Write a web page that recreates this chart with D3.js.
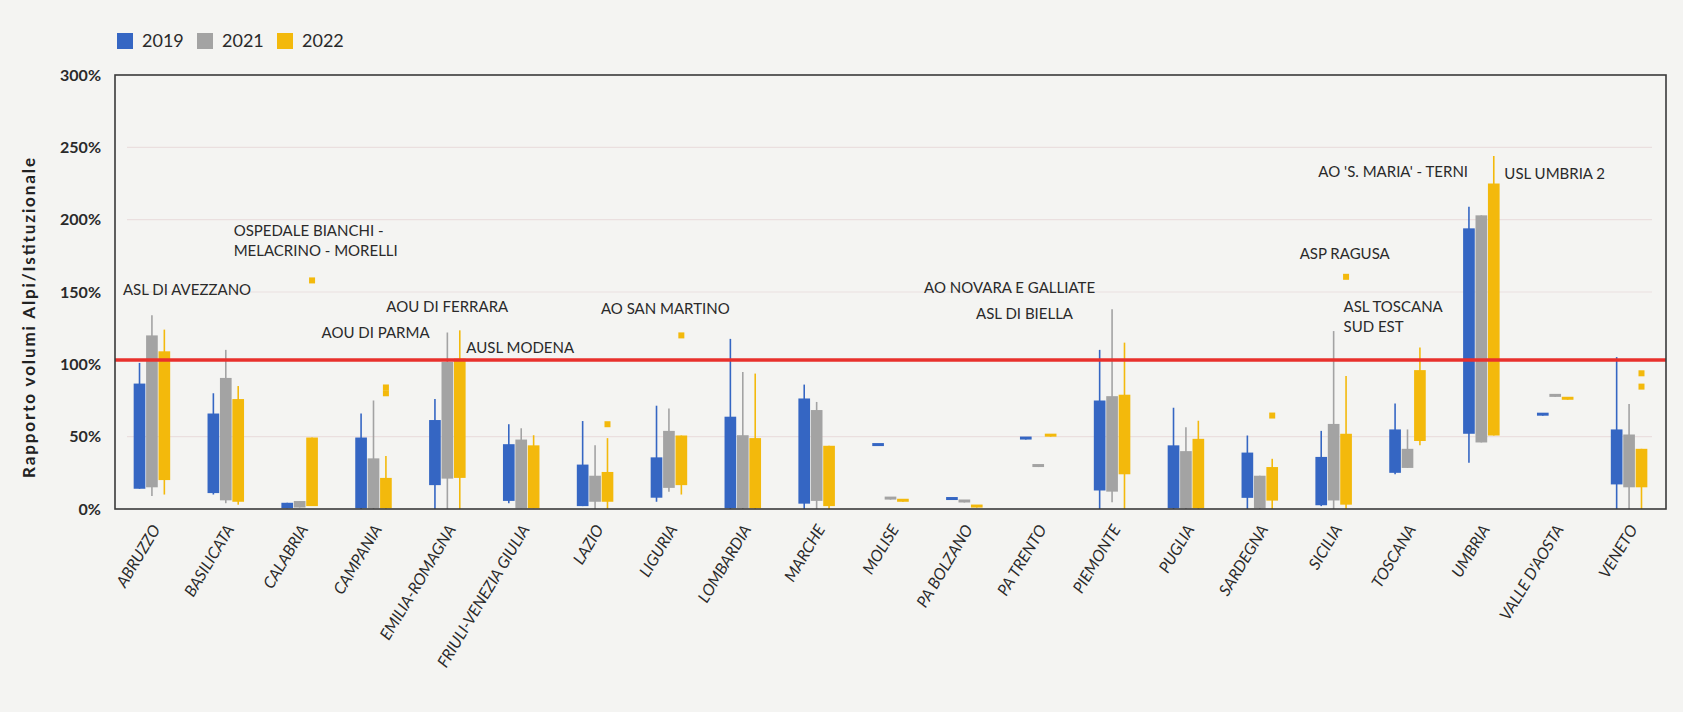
<!DOCTYPE html>
<html>
<head>
<meta charset="utf-8">
<script src="https://cdn.jsdelivr.net/npm/d3@7"></script>
<style>
  html, body { margin: 0; padding: 0; background: #f4f4f2; }
  svg { display: block; font-family: "Lato", "Open Sans", sans-serif; }
</style>
</head>
<body>
<div id="chart"></div>
<script>
// categories
const regions = ["ABRUZZO","BASILICATA","CALABRIA","CAMPANIA","EMILIA-ROMAGNA","FRIULI-VENEZIA GIULIA","LAZIO","LIGURIA","LOMBARDIA","MARCHE","MOLISE","PA BOLZANO","PA TRENTO","PIEMONTE","PUGLIA","SARDEGNA","SICILIA","TOSCANA","UMBRIA","VALLE D'AOSTA","VENETO"];
const years = ["2019", "2021", "2022"];

// box values (%) per year: whisker low, box bottom, box top, whisker high
const lo2019 = [14, 10, 0.5, 0, 0, 4, 2, 5, 0, 0, 44, 6.2, 48, 0, 0, 0, 2, 24, 32, 64.5, 0];
const q1_2019 = [14, 11, 0.5, 0.5, 16.5, 5.6, 2, 7.8, 0.5, 3.7, 43.5, 6.2, 48, 12.8, 0.5, 7.7, 2.6, 25, 52, 64.5, 17];
const q3_2019 = [86.7, 66, 4.3, 49.4, 61.5, 44.8, 30.7, 35.7, 63.8, 76.4, 45, 7.4, 49.5, 75, 44, 39, 36, 55, 194, 65.5, 55];
const hi2019 = [101, 80, 4.3, 66, 76, 58.6, 60.8, 71.4, 117.6, 86, 45, 7.4, 49.5, 110, 70, 50.8, 54, 73, 209, 65.5, 105];

const lo2021 = [9, 4, 1, 0, 0, 0.5, 0, 12, 0, 0, 6.5, 4.5, 29, 4.7, 0, 0, 0, 28.4, 46, 77.5, 0];
const q1_2021 = [15, 6, 1, 0.5, 21, 0.5, 5, 14.6, 0.5, 5.6, 6.5, 4.5, 29, 12, 0.5, 0.5, 5.9, 28.4, 46, 77.5, 15];
const q3_2021 = [120, 90.6, 5.5, 35, 101.6, 48, 23, 54, 51, 68.4, 7.3, 5.5, 30, 78, 40, 23, 58.8, 41.6, 203, 78.5, 51.5];
const hi2021 = [134, 110, 5.5, 75, 122, 55.8, 44, 69.5, 94.7, 74, 7.3, 5.5, 30, 138, 56.5, 23, 123, 55, 203, 78.5, 72.6];

const lo2022 = [10, 3, 2, 0, 0, 0.5, 0, 10, 0, 0, 5, 1, 50, 0, 0, 0, 0, 44, 50.8, 75.5, 0];
const q1_2022 = [20, 5, 2, 0.5, 21.5, 0.5, 5, 16.5, 0.5, 2, 5, 1, 50, 24, 0.5, 5.8, 3, 47, 50.8, 75.5, 15];
const q3_2022 = [109, 76, 49.4, 21.5, 104, 44, 25.6, 50.8, 49, 43.7, 6, 1.8, 51.5, 79, 48.5, 29, 52, 96, 225, 76.5, 41.6];
const hi2022 = [124, 85, 49.4, 36.6, 123.5, 51, 49, 50.8, 93.6, 43.7, 6, 1.8, 51.5, 115, 61, 34.7, 92, 111.7, 244, 76.5, 41.6];

// outliers (year, region, value %)
const outliers = [
  ["2022", "CALABRIA", 158], ["2022", "CAMPANIA", 84], ["2022", "CAMPANIA", 80],
  ["2022", "LAZIO", 58.6], ["2022", "LIGURIA", 120], ["2022", "SARDEGNA", 64.6],
  ["2022", "SICILIA", 160.5], ["2022", "VENETO", 93.8], ["2022", "VENETO", 84.6]
];

// annotations: text, region, value (%), dx from band centre
const annotations = [
  ["ASL DI AVEZZANO", "ABRUZZO", 151.5, -29],
  ["OSPEDALE BIANCHI -", "CALABRIA", 192, -66],
  ["MELACRINO - MORELLI", "CALABRIA", 178.5, -66],
  ["AOU DI PARMA", "CAMPANIA", 122, -52],
  ["AOU DI FERRARA", "EMILIA-ROMAGNA", 140, -61],
  ["AUSL MODENA", "EMILIA-ROMAGNA", 111.5, 19],
  ["AO SAN MARTINO", "LIGURIA", 138.5, -68],
  ["AO NOVARA E GALLIATE", "PIEMONTE", 153, -188],
  ["ASL DI BIELLA", "PIEMONTE", 135, -136],
  ["ASP RAGUSA", "SICILIA", 176.5, -34],
  ["ASL TOSCANA", "TOSCANA", 140, -64],
  ["SUD EST", "TOSCANA", 126, -64],
  ["AO 'S. MARIA' - TERNI", "UMBRIA", 233, -163],
  ["USL UMBRIA 2", "UMBRIA", 231.7, 23]
];

const yTicks = [0, 50, 100, 150, 200, 250, 300];
const gridValues = [50, 150, 200, 250];
const refValue = 103;
const yTitle = "Rapporto volumi Alpi/Istituzionale";

const colors = {"2019": "#3566c3", "2021": "#a3a3a3", "2022": "#f3b90c"};

class box_chart {
    constructor(div_id, width, height){
        var self = this;
        self.margin = {left: 115, right: 17, top: 75, bottom: 203};
        self.width = width;
        self.height = height;

        self.svg = d3.select(`#${div_id}`).append("svg")
            .attr("width", width)
            .attr("height", height);

        self.xScale = d3.scaleBand()
            .domain(regions)
            .range([self.margin.left, width - self.margin.right]);

        self.inner = d3.scaleBand()
            .domain(years)
            .range([-19, 19])
            .padding(0.06);

        self.yScale = d3.scaleLinear()
            .domain([0, 300])
            .range([height - self.margin.bottom, self.margin.top]);

        self.data = [];
        const series = {
            "2019": [lo2019, q1_2019, q3_2019, hi2019],
            "2021": [lo2021, q1_2021, q3_2021, hi2021],
            "2022": [lo2022, q1_2022, q3_2022, hi2022]
        };
        years.forEach(y => {
            regions.forEach((r, i) => {
                let s = series[y];
                self.data.push({year: y, region: r, lo: s[0][i], q1: s[1][i], q3: s[2][i], hi: s[3][i]});
            });
        });
    }

    cx(region, year){
        return this.xScale(region) + this.xScale.bandwidth()/2 + this.inner(year) + this.inner.bandwidth()/2;
    }

    draw(){
        var self = this;
        let x0 = self.margin.left, x1 = self.width - self.margin.right;

        // grid
        self.svg.append("g")
            .selectAll("line")
            .data(gridValues)
            .enter()
            .append("line")
                .attr("x1", x0 + 12).attr("x2", x1 - 14)
                .attr("y1", d => self.yScale(d)).attr("y2", d => self.yScale(d))
                .attr("stroke", "#eadfdf")
                .attr("stroke-width", 1.2);

        // y axis labels
        let yAxis = d3.axisLeft(self.yScale)
            .tickValues(yTicks)
            .tickFormat(d => d + "%")
            .tickSize(0)
            .tickPadding(14);
        let ya = self.svg.append("g")
            .attr("transform", `translate(${x0}, 0)`)
            .call(yAxis);
        ya.select(".domain").remove();
        ya.selectAll("text")
            .attr("font-size", 16)
            .attr("font-weight", 700)
            .attr("fill", "#2a2a2a")
            .attr("font-family", "Lato, sans-serif");

        // x axis labels
        let xAxis = d3.axisBottom(self.xScale).tickSize(0).tickPadding(0);
        let xa = self.svg.append("g")
            .attr("transform", `translate(0, ${self.yScale(0)})`)
            .call(xAxis);
        xa.select(".domain").remove();
        xa.selectAll("text")
            .attr("font-size", 16)
            .attr("font-style", "italic")
            .attr("fill", "#2a2a2a")
            .attr("font-family", "Lato, sans-serif")
            .attr("text-anchor", "end")
            .attr("dy", 0)
            .attr("transform", "translate(9, 20) rotate(-59)");

        // whiskers
        let boxes = self.svg.append("g");
        boxes.selectAll(".whisker")
            .data(self.data.filter(d => d.hi > d.lo))
            .enter()
            .append("line")
                .attr("class", "whisker")
                .attr("x1", d => self.cx(d.region, d.year))
                .attr("x2", d => self.cx(d.region, d.year))
                .attr("y1", d => self.yScale(d.lo))
                .attr("y2", d => self.yScale(d.hi))
                .attr("stroke", d => colors[d.year])
                .attr("stroke-width", 1.6);

        // boxes
        boxes.selectAll(".box")
            .data(self.data)
            .enter()
            .append("rect")
                .attr("class", "box")
                .attr("x", d => self.cx(d.region, d.year) - self.inner.bandwidth()/2)
                .attr("width", self.inner.bandwidth())
                .attr("y", d => Math.min(self.yScale(d.q3), self.yScale(d.q1) - 3))
                .attr("height", d => Math.max(self.yScale(d.q1) - self.yScale(d.q3), 3))
                .attr("fill", d => colors[d.year]);

        // outliers
        boxes.selectAll(".outlier")
            .data(outliers)
            .enter()
            .append("rect")
                .attr("class", "outlier")
                .attr("x", d => self.cx(d[1], d[0]) - 3)
                .attr("y", d => self.yScale(d[2]) - 3)
                .attr("width", 6)
                .attr("height", 6)
                .attr("fill", d => colors[d[0]]);

        // reference line
        self.svg.append("line")
            .attr("x1", x0).attr("x2", x1)
            .attr("y1", self.yScale(refValue)).attr("y2", self.yScale(refValue))
            .attr("stroke", "#e8302c")
            .attr("stroke-width", 3.5);

        // frame
        self.svg.append("rect")
            .attr("x", x0).attr("y", self.yScale(300))
            .attr("width", x1 - x0)
            .attr("height", self.yScale(0) - self.yScale(300))
            .attr("fill", "none")
            .attr("stroke", "#3a3a3a")
            .attr("stroke-width", 1.6);

        // annotations
        self.svg.append("g")
            .selectAll("text")
            .data(annotations)
            .enter()
            .append("text")
                .attr("x", d => self.xScale(d[1]) + self.xScale.bandwidth()/2 + d[3])
                .attr("y", d => self.yScale(d[2]))
                .attr("dy", "0.35em")
                .attr("font-size", 15)
                .attr("fill", "#2a2a2a")
                .text(d => d[0]);

        // y title
        self.svg.append("text")
            .attr("transform", `translate(35, ${(self.yScale(0) + self.yScale(300))/2 + 26}) rotate(-90)`)
            .attr("text-anchor", "middle")
            .attr("font-size", 17)
            .attr("font-weight", 700)
            .attr("textLength", 320)
            .attr("lengthAdjust", "spacing")
            .attr("fill", "#222")
            .text(yTitle);

        // legend
        let legend = self.svg.append("g")
            .attr("transform", "translate(117, 33)")
            .selectAll("g")
            .data(years)
            .enter()
            .append("g")
                .attr("transform", (d, i) => `translate(${i*80}, 0)`);
        legend.append("rect")
            .attr("width", 16).attr("height", 16)
            .attr("fill", d => colors[d]);
        legend.append("text")
            .attr("x", 25).attr("y", 8)
            .attr("dy", "0.36em")
            .attr("font-size", 18)
            .attr("fill", "#2a2a2a")
            .text(d => d);
    }
}

let chart = new box_chart("chart", 1683, 712);
chart.draw();
</script>
</body>
</html>
